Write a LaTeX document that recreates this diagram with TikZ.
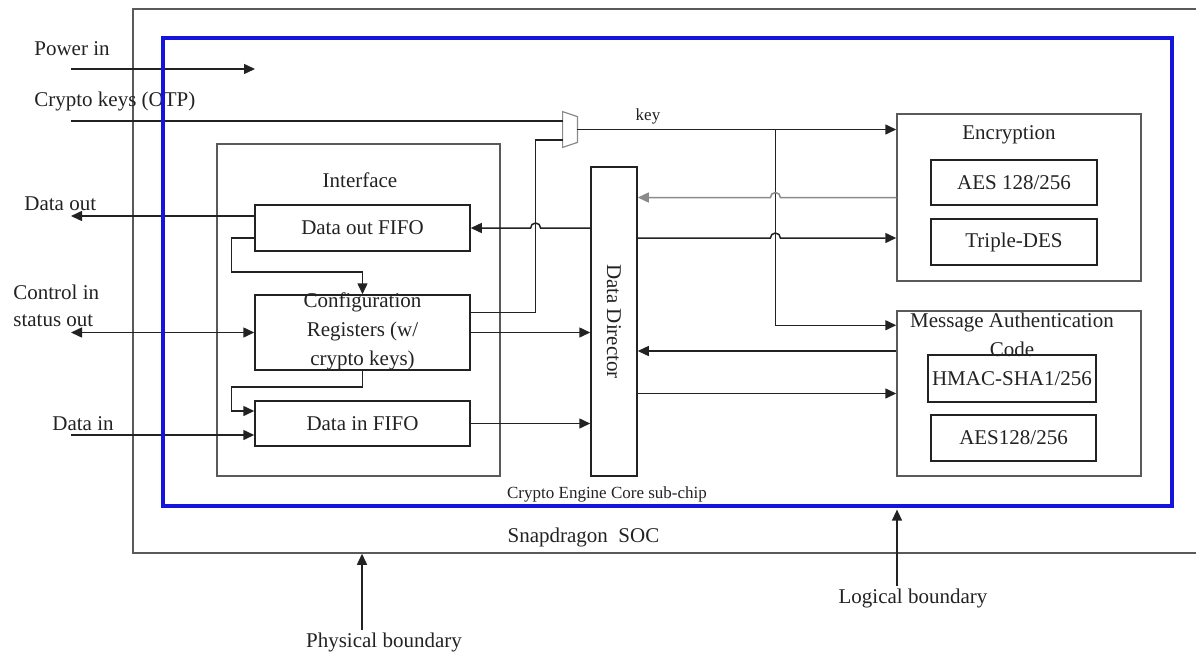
\documentclass[tikz,border=0pt]{standalone}
\usepackage{fontspec}
\setmainfont{Liberation Serif}
\usetikzlibrary{arrows.meta,positioning,calc}
\definecolor{ink}{HTML}{222222}
\definecolor{frame}{HTML}{5A5A5A}
\definecolor{shade}{HTML}{8A8A8A}
\definecolor{coreblue}{HTML}{1414DC}

\begin{document}
\begin{tikzpicture}[
    x=0.5pt, y=-0.5pt,
    font=\fontsize{10.5}{14.5}\selectfont,
    blk/.style={rectangle, draw=ink, line width=0.75pt, inner sep=0pt, align=center, text=ink},
    outerblk/.style={rectangle, draw=frame, line width=0.75pt, inner sep=0pt},
    wire/.style={draw=ink, line width=0.75pt},
    arr/.style={wire, -{Triangle[length=5.5pt,width=5pt]}},
    biarr/.style={wire, {Triangle[length=5.5pt,width=5pt]}-{Triangle[length=5.5pt,width=5pt]}},
    txt/.style={inner sep=1pt, text=ink},
    small/.style={txt, font=\fontsize{8.5}{10}\selectfont}
]
\useasboundingbox (0,0) rectangle (1196,654);

% physical boundary (chip)
\node[outerblk, minimum width=563.5pt, minimum height=272pt] (soc) at (696.5,281) {};

% Interface block
\node[outerblk, minimum width=141.5pt, minimum height=166pt] (iface) at (358.5,310) {};
\node[txt] (ifacelab) at (360,180) {Interface};
\node[blk, minimum width=107.5pt, minimum height=23pt] (dofifo) at (362.5,228) {Data out FIFO};
\node[blk, minimum width=107.5pt, minimum height=37.5pt] (cfgreg) at (362.5,332.5) {};
\node[txt, align=center] (cfgtext) at (362.5,331) {Configuration\\Registers (w/\\crypto keys)};
\node[blk, minimum width=107.5pt, minimum height=22.5pt] (difif) at (362.5,423.5) {Data in FIFO};

% Data director
\node[blk, minimum width=23pt, minimum height=154.5pt] (dd) at (614,321.5) {};
\node[txt, rotate=-90] (ddlab) at (dd.center) {Data Director};

% Encryption
\node[outerblk, minimum width=122pt, minimum height=83.5pt] (enc) at (1019,197.5) {};
\node[txt] (enclab) at (1009,135) {Encryption};
\node[blk, minimum width=83pt, minimum height=22.5pt] (aes) at (1014,182.5) {AES 128/256};
\node[blk, minimum width=83pt, minimum height=23pt] (tdes) at (1014,242) {Triple-DES};

% Message authentication
\node[outerblk, minimum width=122pt, minimum height=82.5pt] (mac) at (1019,393.5) {};
\node[txt, align=center] (maclab) at (1012,334.5) {Message Authentication\\Code};
\node[blk, minimum width=84pt, minimum height=23.5pt] (hmac) at (1012,378.5) {HMAC-SHA1/256};
\node[blk, minimum width=82.5pt, minimum height=23pt] (aesmac) at (1013.5,438) {AES128/256};

% key mux
\node[minimum width=7pt, minimum height=17.5pt, inner sep=0pt] (mux) at (570,129.5) {};
\draw[draw=shade, line width=0.6pt] (mux.north west) -- ([yshift=-2.5pt]mux.north east)
    -- ([yshift=2.5pt]mux.south east) -- (mux.south west) -- cycle;

% outside labels
\coordinate (edge) at (71,0);
\coordinate (pwrsrc) at (71,69);
\coordinate (pwrend) at (255,69);
\coordinate (keysrc) at (71,121);
\node[txt, anchor=west] (pwrlab) at (32,49) {Power in};
\node[txt, anchor=west] (keylab) at (32,101) {Crypto keys (OTP)};
\node[txt, anchor=west] (dolab) at (22,204) {Data out};
\node[txt, anchor=west, align=left, font=\fontsize{10.5}{13.5}\selectfont] (ctllab) at (11,305.5) {Control in\\status out};
\node[txt, anchor=west] (dilab) at (50,424) {Data in};
\node[small] (keytag) at (648,116) {key};
\node[small] (corelab) at (607,494) {Crypto Engine Core sub-chip};
\node[txt] (soclab) at (583.5,537) {Snapdragon\ \ SOC};
\node[txt] (physlab) at (384,642) {Physical boundary};
\node[txt] (logilab) at (913,598) {Logical boundary};

% connectors
\draw[arr] (pwrsrc) -- (pwrend);
\draw[wire] (keysrc) -- (keysrc -| mux.west);
\draw[arr] (mux.east) -- (mux.east -| enc.west);
\coordinate (keybus) at ($(mux.east)+(99pt,0)$);
\draw[arr] (keybus) |- ([yshift=-7.5pt]mac.north west);
\coordinate (muxin) at ([yshift=-5.25pt]mux.west);
\coordinate (cfgbus) at ($(muxin)+(-13.5pt,0)$);
\draw[wire] ([yshift=-9pt]cfgreg.north east) -| (cfgbus) -- (muxin);

\draw[arr] (dofifo.east -| dd.west) -- ([xshift=2.5pt]dofifo.east -| cfgbus)
    arc[start angle=0, end angle=180, radius=2.5pt] -- (dofifo.east);
\draw[arr, draw=shade] (enc.west) -- ([xshift=2.5pt]enc.west -| keybus)
    arc[start angle=0, end angle=180, radius=2.5pt] -- (enc.west -| dd.east);
\coordinate (tdesin) at ([yshift=2pt]tdes.west -| enc.west);
\draw[arr] (tdesin -| dd.east) -- ([xshift=-2.5pt]tdesin -| keybus)
    arc[start angle=180, end angle=0, radius=2.5pt] -- (tdesin);
\coordinate (macout) at ([yshift=21.25pt]mac.west);
\draw[arr] (macout) -- (macout -| dd.east);
\draw[arr] (mac.west -| dd.east) -- (mac.west);
\draw[arr] (cfgreg.east) -- (cfgreg.east -| dd.west);
\draw[arr] (difif.east) -- (difif.east -| dd.west);

\draw[arr] ([yshift=6pt]dofifo.west) -- ([yshift=6pt]dofifo.west -| edge);
\draw[arr] ([yshift=-5pt]dofifo.west) -- ++(-11.5pt,0) -- ++(0,-17pt) -| (cfgreg.north);
\draw[arr] (cfgreg.south) -- ++(0,-8pt) -| ([xshift=-11.5pt,yshift=6.25pt]difif.west)
    -- ([yshift=6.25pt]difif.west);
\draw[biarr] (cfgreg.west -| edge) -- (cfgreg.west);
\draw[arr] ([yshift=-5.75pt]difif.west -| edge) -- ([yshift=-5.75pt]difif.west);

% logical boundary (core) drawn over the wires
\node[rectangle, draw=coreblue, line width=1.8pt, minimum width=504.5pt, minimum height=234pt] (core) at (667.5,272) {};

\draw[arr] ([xshift=-11pt]physlab.north) -- ([xshift=-11pt]physlab.north |- soc.south);
\draw[arr, shorten >=0.9pt] ([xshift=-8pt]logilab.north) -- ([xshift=-8pt]logilab.north |- core.south);

\end{tikzpicture}
\end{document}
